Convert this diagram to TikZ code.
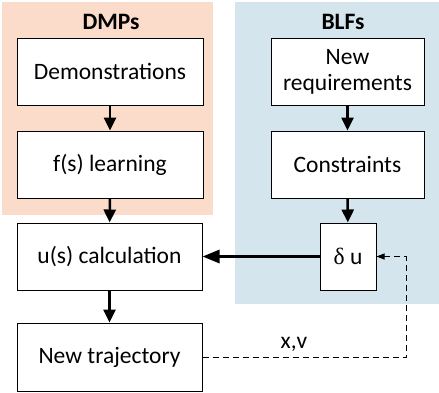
\documentclass[tikz,border=0pt]{standalone}
\usepackage{fontspec}
\setmainfont{Carlito}
\newfontfamily\grkfont{Liberation Serif}
\usetikzlibrary{arrows.meta}
\definecolor{dmpbg}{HTML}{FBDCCB}
\definecolor{blfbg}{HTML}{D5E5EE}
\begin{document}
\begin{tikzpicture}[x=1pt,y=-1pt,
  box/.style={draw=black,line width=1pt,fill=white,inner sep=0pt,align=center,
    font=\fontsize{23.5}{26}\selectfont},
  title/.style={font=\fontsize{23.5}{26}\selectfont\bfseries},
  flow/.style={line width=2.5pt,-{Triangle[length=13pt,width=12pt]}},
  thickflow/.style={line width=3pt,-{Triangle[length=17pt,width=13pt]}},
  fb/.style={line width=1pt,dash pattern=on 6pt off 4pt,-{Triangle[length=8pt,width=6pt]}}]
\useasboundingbox (0,0) rectangle (439,392);
\fill[dmpbg] (2,2) rectangle (213,215);
\fill[blfbg] (235,2) rectangle (439,304);
\node[title] (tdmp) at (111,22) {DMPs};
\node[title] (tblf) at (343,22) {BLFs};
\node[box,minimum width=186pt,minimum height=67pt] (demo) at (110,71.5) {Demonstrations};
\node[box,minimum width=186pt,minimum height=67pt] (flearn) at (110,164.5) {f(s) learning};
\node[box,minimum width=153pt,minimum height=67pt] (newreq) at (347.5,71.5) {New\\requirements};
\node[box,minimum width=153pt,minimum height=67pt] (constr) at (347.5,164.5) {Constraints};
\node[box,minimum width=185pt,minimum height=67pt] (ucalc) at (109.5,256.5) {u(s) calculation};
\node[box,minimum width=56pt,minimum height=67pt] (du) at (348,256.5) {{\grkfont δ} u};
\node[box,minimum width=185pt,minimum height=68pt] (newtraj) at (109.5,357) {New trajectory};
\coordinate (c1) at (406,357);
\coordinate (c2) at (406,256.5);
\draw[flow] (demo) -- (flearn);
\draw[flow] (flearn) -- (ucalc);
\draw[flow] (ucalc) -- (newtraj);
\draw[flow] (newreq) -- (constr);
\draw[flow] (constr) -- (du);
\draw[thickflow] (du) -- (ucalc);
\draw[fb] (newtraj.east) -- (c1) -- (c2) -- (du.east);
\node[font=\fontsize{23.5}{26}\selectfont] (xv) at (294,344) {x,v};
\end{tikzpicture}
\end{document}
